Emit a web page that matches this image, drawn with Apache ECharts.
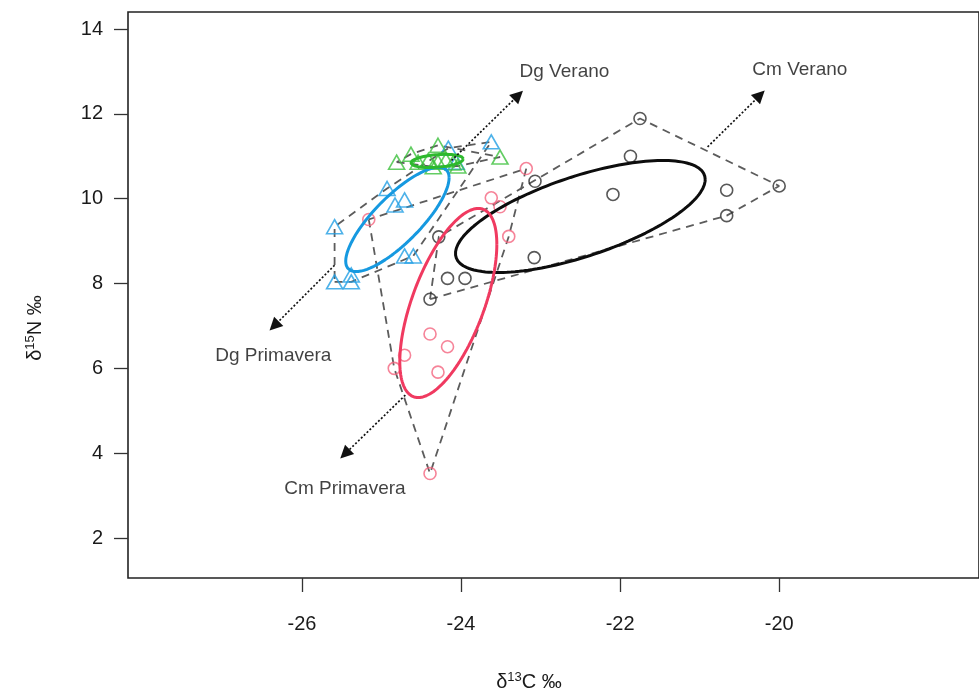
<!DOCTYPE html>
<html><head><meta charset="utf-8">
<script src="https://cdn.jsdelivr.net/npm/echarts@6/dist/echarts.min.js"></script>
<style>html,body{margin:0;padding:0;background:#fff}#c{width:979px;height:691px}</style>
</head><body><div id="c"></div>
<script>
// ---- data (δ13C, δ15N) ----
const cmVeranoX = [-21.75, -21.87, -22.09, -20.66, -20.00, -20.66, -23.07, -24.28, -23.08, -24.17, -23.95, -24.39];
const cmVeranoY = [11.89, 11.00, 10.10, 10.20, 10.30, 9.60, 10.41, 9.10, 8.61, 8.12, 8.12, 7.63];
const cmPrimaveraX = [-23.18, -23.62, -23.51, -23.40, -25.16, -24.39, -24.17, -24.29, -24.71, -24.84, -24.39];
const cmPrimaveraY = [10.71, 10.02, 9.81, 9.11, 9.51, 6.81, 6.51, 5.91, 6.31, 6.00, 3.52];
const dgPrimaveraX = [-23.62, -24.16, -24.06, -24.93, -24.83, -24.71, -25.59, -24.71, -24.60, -25.59, -25.38, -25.38];
const dgPrimaveraY = [11.34, 11.19, 10.86, 10.24, 9.85, 9.97, 9.34, 8.65, 8.65, 8.04, 8.04, 8.20];
const dgVeranoX = [-24.81, -24.63, -24.29, -24.54, -24.41, -24.29, -24.19, -24.10, -24.04, -23.51, -24.35];
const dgVeranoY = [10.86, 11.05, 11.26, 10.86, 10.91, 10.86, 10.91, 10.84, 10.77, 10.98, 10.75];

// standard ellipse estimates per group: [meanX, meanY, sdX, sdY, correlation]
const cmVeranoEllipse = [-22.50, 9.58, 1.57, 1.32, 0.66];
const cmPrimaveraEllipse = [-24.16, 7.54, 0.61, 2.23, 0.62];
const dgPrimaveraEllipse = [-24.80, 9.51, 0.65, 1.23, 0.80];
const dgVeranoEllipse = [-24.30, 10.89, 0.33, 0.155, 0.30];

const xTicks = [-26, -24, -22, -20];
const yTicks = [2, 4, 6, 8, 10, 12, 14];

// annotation arrows and labels
const arrowNames = ['Dg Verano', 'Cm Verano', 'Dg Primavera', 'Cm Primavera'];
const arrowStart = [[-24.12, 10.90], [-20.90, 11.22], [-25.59, 8.43], [-24.70, 5.37]];
const arrowEnd = [[-23.28, 12.44], [-20.24, 12.44], [-26.35, 7.00], [-25.46, 3.98]];
const labelAt = [[-22.70, 12.99], [-19.74, 13.03], [-26.36, 6.29], [-25.46, 3.17]];

// ---- helpers ----
function zip(xs, ys) { return xs.map((x, i) => [x, ys[i]]); }
function hull(xs, ys) {
  const p = zip(xs, ys).sort((a, b) => a[0] - b[0] || a[1] - b[1]);
  const cr = (o, a, b) => (a[0] - o[0]) * (b[1] - o[1]) - (a[1] - o[1]) * (b[0] - o[0]);
  const lo = [], up = [];
  for (const q of p) { while (lo.length >= 2 && cr(lo[lo.length - 2], lo[lo.length - 1], q) <= 0) lo.pop(); lo.push(q); }
  for (let i = p.length - 1; i >= 0; i--) { const q = p[i]; while (up.length >= 2 && cr(up[up.length - 2], up[up.length - 1], q) <= 0) up.pop(); up.push(q); }
  const h = lo.slice(0, -1).concat(up.slice(0, -1));
  h.push(h[0]);
  return h;
}
function ellipsePath(e) {
  const [mx, my, sx, sy, r] = e;
  const k = Math.sqrt(1 - r * r);
  const pts = [];
  for (let i = 0; i <= 160; i++) {
    const t = 2 * Math.PI * i / 160;
    pts.push([mx + sx * Math.cos(t), my + sy * (r * Math.cos(t) + k * Math.sin(t))]);
  }
  return pts;
}

const groups = [
  { xs: cmVeranoX, ys: cmVeranoY, el: cmVeranoEllipse, sym: 'circle', size: 12, pc: '#2e2e2e', ec: '#0d0d0d' },
  { xs: cmPrimaveraX, ys: cmPrimaveraY, el: cmPrimaveraEllipse, sym: 'circle', size: 12, pc: '#F4657F', ec: '#F03A60' },
  { xs: dgPrimaveraX, ys: dgPrimaveraY, el: dgPrimaveraEllipse, sym: 'triangle', size: [16, 14], pc: '#229FE4', ec: '#1699E0' },
  { xs: dgVeranoX, ys: dgVeranoY, el: dgVeranoEllipse, sym: 'triangle', size: [16, 14], pc: '#3CC03C', ec: '#2DB92D' }
];

const series = [];
groups.forEach(g => {
  series.push({
    type: 'line', data: hull(g.xs, g.ys), symbol: 'none', silent: true, z: 1,
    lineStyle: { color: '#5c5c5c', width: 1.8, type: [8, 6] }
  });
});
groups.forEach(g => {
  series.push({
    type: 'scatter', data: zip(g.xs, g.ys), symbol: g.sym, symbolSize: g.size, z: 2, silent: true,
    itemStyle: { color: 'rgba(255,255,255,0)', borderColor: g.pc, borderWidth: 1.6 }
  });
});
groups.forEach(g => {
  series.push({
    type: 'line', data: ellipsePath(g.el), symbol: 'none', silent: true, z: 3,
    lineStyle: { color: g.ec, width: 3 }
  });
});
series.push({
  type: 'lines', coordinateSystem: 'cartesian2d', z: 4, silent: true,
  symbol: ['none', 'triangle'], symbolSize: [11, 13],
  lineStyle: { color: '#111', width: 1.7, type: [2, 2], opacity: 1 },
  data: arrowStart.map((s, i) => ({ coords: [s, arrowEnd[i]] }))
});
series.push({
  type: 'scatter', z: 5, silent: true, symbolSize: 1,
  itemStyle: { color: 'rgba(0,0,0,0)' },
  data: labelAt.map((p, i) => [p[0], p[1], arrowNames[i]]),
  label: { show: true, position: 'inside', formatter: p => p.value[2],
    fontFamily: 'Liberation Sans', fontSize: 19, color: '#111' }
});

const chart = echarts.init(document.getElementById('c'), null, { renderer: 'canvas' });
chart.setOption({
  animation: false,
  backgroundColor: '#fff',
  grid: { left: 128, top: 12, width: 856, height: 566, show: true, borderColor: '#222', borderWidth: 1.6, backgroundColor: 'rgba(0,0,0,0)' },
  xAxis: {
    type: 'value', min: -28.1875, max: -17.4875, splitLine: { show: false },
    axisLine: { show: false },
    axisTick: { show: true, customValues: xTicks, length: 14, lineStyle: { color: '#333', width: 1.3 } },
    axisLabel: { customValues: xTicks, margin: 36, fontSize: 20, color: '#1a1a1a', fontFamily: 'Liberation Sans' }
  },
  yAxis: {
    type: 'value', min: 1.0566, max: 14.401, splitLine: { show: false },
    axisLine: { show: false },
    axisTick: { show: true, customValues: yTicks, length: 14, lineStyle: { color: '#333', width: 1.3 } },
    axisLabel: { customValues: yTicks, margin: 25, fontSize: 20, color: '#1a1a1a', fontFamily: 'Liberation Sans' }
  },
  graphic: [
    { type: 'text', x: 529, y: 682, style: { text: '{d|δ}{s|13}{d|C ‰}', align: 'center', verticalAlign: 'middle',
      rich: { d: { fontSize: 20, fontFamily: 'Liberation Sans', fill: '#1a1a1a' }, s: { fontSize: 13, fontFamily: 'Liberation Sans', fill: '#1a1a1a', verticalAlign: 'top', padding: [0, 0, 10, 0] } } } },
    { type: 'text', x: 35, y: 328, rotation: Math.PI / 2, style: { text: '{d|δ}{s|15}{d|N ‰}', align: 'center', verticalAlign: 'middle',
      rich: { d: { fontSize: 20, fontFamily: 'Liberation Sans', fill: '#1a1a1a' }, s: { fontSize: 13, fontFamily: 'Liberation Sans', fill: '#1a1a1a', verticalAlign: 'top', padding: [0, 0, 10, 0] } } } }
  ],
  series: series
});
</script></body></html>
